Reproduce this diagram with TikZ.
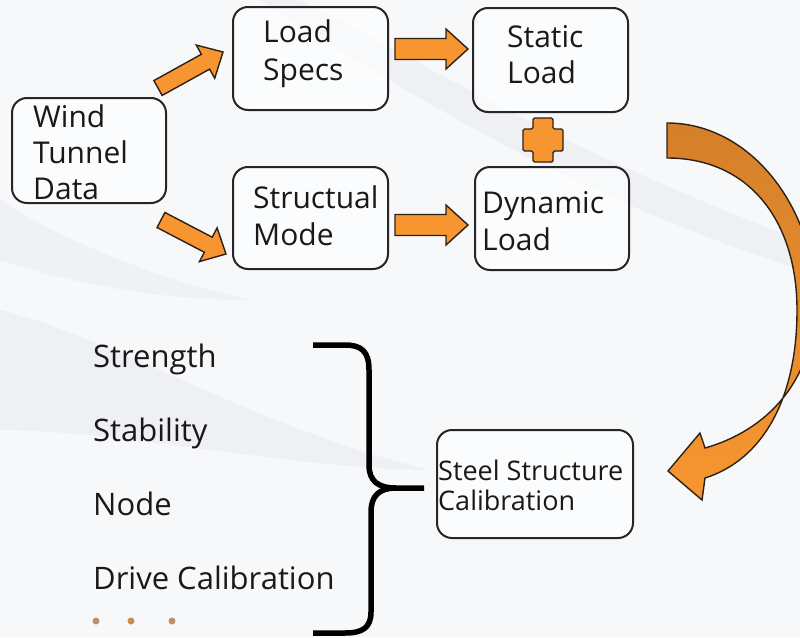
\documentclass[tikz,border=0pt]{standalone}
\usepackage{fontspec}
\setmainfont{Open Sans}
\usetikzlibrary{calc}
\definecolor{arroworange}{RGB}{247,150,48}
\definecolor{arrowdark}{RGB}{212,128,42}
\definecolor{outlinec}{RGB}{45,32,20}
\definecolor{bgc}{RGB}{247,248,250}
\definecolor{swoosh}{RGB}{228,231,236}
\definecolor{dotc}{RGB}{185,145,110}
\definecolor{dotd}{RGB}{200,140,85}

\tikzset{
  boxsty/.style={draw=black!85, line width=2pt, rounded corners=15pt, fill=white, fill opacity=0.6, text opacity=1, inner sep=0pt},
  txtsty/.style={anchor=base west, align=left, inner sep=0pt, text=black!90},
  liststy/.style={anchor=base west, inner sep=0pt, font=\fontsize{31}{36}\selectfont, text=black!90},
  blockarr/.style={draw=outlinec, line width=1.4pt, fill=arroworange, line join=miter},
  bracesty/.style={draw=black, line width=5.5pt, line cap=butt, line join=round},
}

% #1 tail, #2 tip, #3 shaft half width, #4 head half width, #5 head length
\newcommand\blockarrow[5]{%
  \coordinate (#1-h) at ($(#2)!#5!(#1)$);
  \draw[blockarr] ($(#1)!#3!90:(#2)$) -- ($(#1-h)!#3!90:(#2)$) -- ($(#1-h)!#4!90:(#2)$)
    -- (#2) -- ($(#1-h)!#4!-90:(#2)$) -- ($(#1-h)!#3!-90:(#2)$) -- ($(#1)!#3!-90:(#2)$) -- cycle;
}

\begin{document}
\begin{tikzpicture}[x=1pt, y=-1pt]
\useasboundingbox (0,0) rectangle (800,637);
\fill[bgc] (0,0) rectangle (800,637);
% faint background swooshes
\fill[swoosh, opacity=0.45] (0,310) .. controls (120,340) and (260,430) .. (430,470)
  .. controls (300,470) and (120,430) .. (0,430) -- cycle;
\fill[swoosh, opacity=0.45] (300,0) .. controls (420,60) and (560,150) .. (800,240)
  -- (800,270) .. controls (560,190) and (420,100) .. (260,0) -- cycle;
\fill[swoosh, opacity=0.4] (0,200) .. controls (60,240) and (160,280) .. (250,300)
  .. controls (150,300) and (60,280) .. (0,260) -- cycle;

% boxes
\node[boxsty, minimum width=154pt, minimum height=105pt] (wind) at (89,150.5) {};
\node[boxsty, minimum width=155pt, minimum height=103pt] (specs) at (310.5,58.5) {};
\node[boxsty, minimum width=155pt, minimum height=102pt] (mode) at (310.5,218) {};
\node[boxsty, minimum width=155pt, minimum height=104pt] (static) at (550.5,60) {};
\node[boxsty, minimum width=154pt, minimum height=103pt] (dynamic) at (552,218.5) {};
\node[boxsty, minimum width=196pt, minimum height=108pt] (steel) at (535,484) {};

% box texts (anchored at the baseline of the last line)
\node[txtsty, font=\fontsize{30}{36}\selectfont] (windtxt) at (33,199) {Wind\\Tunnel\\Data};
\node[txtsty, font=\fontsize{30}{38}\selectfont] (specstxt) at (263,80) {Load\\Specs};
\node[txtsty, font=\fontsize{30}{37}\selectfont] (modetxt) at (253,245) {Structual\\Mode};
\node[txtsty, font=\fontsize{30}{36}\selectfont] (statictxt) at (507,83) {Static\\Load};
\node[txtsty, font=\fontsize{30}{37}\selectfont] (dynamictxt) at (482,250) {Dynamic\\Load};
\node[txtsty, font=\fontsize{27}{30}\selectfont] (steeltxt) at (438,510) {Steel Structure\\Calibration};

% straight block arrows
\coordinate (a1t) at (158,88);  \coordinate (a1h) at (223,52);
\coordinate (a2t) at (161,220); \coordinate (a2h) at (226,254);
\coordinate (a3t) at (395,49);  \coordinate (a3h) at (468,49);
\coordinate (a4t) at (395,225); \coordinate (a4h) at (468,225);
\blockarrow{a1t}{a1h}{8.5pt}{19pt}{20pt}
\blockarrow{a2t}{a2h}{8.5pt}{19pt}{20pt}
\blockarrow{a3t}{a3h}{10.5pt}{20pt}{22pt}
\blockarrow{a4t}{a4h}{10.5pt}{20pt}{22pt}

% plus sign
\draw[blockarr, rounded corners=1.5pt] (533,118) -- (553,118) -- (553,129) -- (563,129) -- (563,151)
  -- (553,151) -- (553,162) -- (533,162) -- (533,151) -- (523,151) -- (523,129) -- (533,129) -- cycle;

% curved arrow
\begin{scope}
\clip (0,0) rectangle (800,637);
\draw[draw=outlinec, line width=1.4pt, top color=arrowdark, bottom color=arroworange, line join=miter]
  (667,123) .. controls (752,123) and (815,210) .. (815,300)
  .. controls (815,380) and (768,430) .. (705,448)
  -- (700,433) -- (668,471) -- (702,500) -- (705,478)
  .. controls (762,460) and (797,400) .. (797,310)
  .. controls (797,222) and (750,158) .. (667,158) -- cycle;
\end{scope}

% list
\node[liststy] (strength) at (93,367) {Strength};
\node[liststy] (stability) at (93,441) {Stability};
\node[liststy] (nodeitem) at (93,515) {Node};
\node[liststy] (drive) at (93,589) {Drive Calibration};
\fill[dotc] (96,621) circle (3.5pt);
\fill[dotd] (131,621) circle (3.5pt);
\fill[dotc] (172,621) circle (3.5pt);

% brace
\coordinate (bracetip) at (424,488);
\draw[bracesty] (313,345) -- (345,345) .. controls (362,345) and (369,352) .. (369,370)
  -- (369,465) .. controls (369,481) and (378,488) .. (396,488) -- (bracetip);
\draw[bracesty] (396,488) .. controls (379,488) and (371,496) .. (371,512)
  -- (371,612) .. controls (371,628) and (362,633) .. (345,633) -- (313,633);
\end{tikzpicture}
\end{document}
